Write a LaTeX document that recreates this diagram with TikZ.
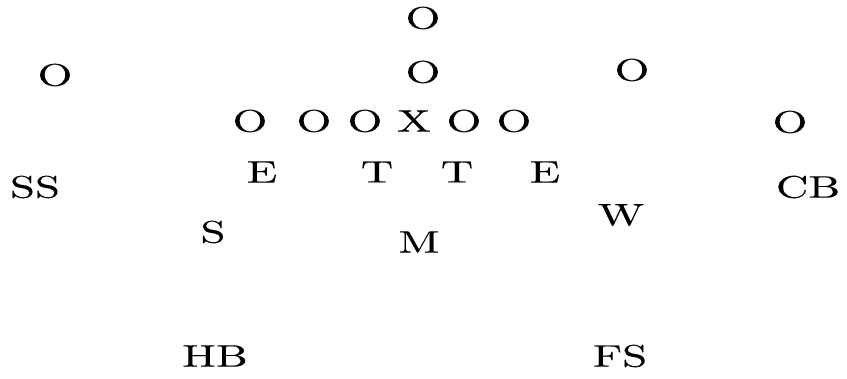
\documentclass[tikz,border=0pt]{standalone}
\usepackage{graphicx}
\usepackage{fontspec}
\newfontfamily\thickrm{lmroman10-regular.otf}[FakeBold=0.15]
\begin{document}
\begin{tikzpicture}[x=1pt,y=-1pt,
  lbl/.style={inner sep=0pt,font=\thickrm\fontsize{31}{33}\selectfont}]
\useasboundingbox (0,0) rectangle (847,379);
\newcommand{\wide}[1]{\scalebox{1.45}[1]{#1}}
% offense
\node[lbl] (o1) at (423,18) {\wide{O}};
\node[lbl] (o2) at (423,72) {\wide{O}};
\node[lbl] (o3) at (55,75) {\wide{O}};
\node[lbl] (o4) at (632,70) {\wide{O}};
\node[lbl] (o5) at (790,122) {\wide{O}};
\node[lbl] (l1) at (250,121) {\wide{O}};
\node[lbl] (l2) at (314,121) {\wide{O}};
\node[lbl] (l3) at (365,121) {\wide{O}};
\node[lbl] (x)  at (414,121) {\wide{X}};
\node[lbl] (l4) at (464,121) {\wide{O}};
\node[lbl] (l5) at (514,121) {\wide{O}};
% defense
\node[lbl] (e1) at (262,172) {\wide{E}};
\node[lbl] (t1) at (377,172) {\wide{T}};
\node[lbl] (t2) at (457,172) {\wide{T}};
\node[lbl] (e2) at (545,172) {\wide{E}};
\node[lbl] (ss) at (35,187) {\wide{SS}};
\node[lbl] (cb) at (808,187) {\wide{CB}};
\node[lbl] (s)  at (213,232) {\wide{S}};
\node[lbl] (w)  at (621,215) {\wide{W}};
\node[lbl] (m)  at (419,242) {\wide{M}};
\node[lbl] (hb) at (215,356) {\wide{HB}};
\node[lbl] (fs) at (620,356) {\wide{FS}};
\end{tikzpicture}
\end{document}
